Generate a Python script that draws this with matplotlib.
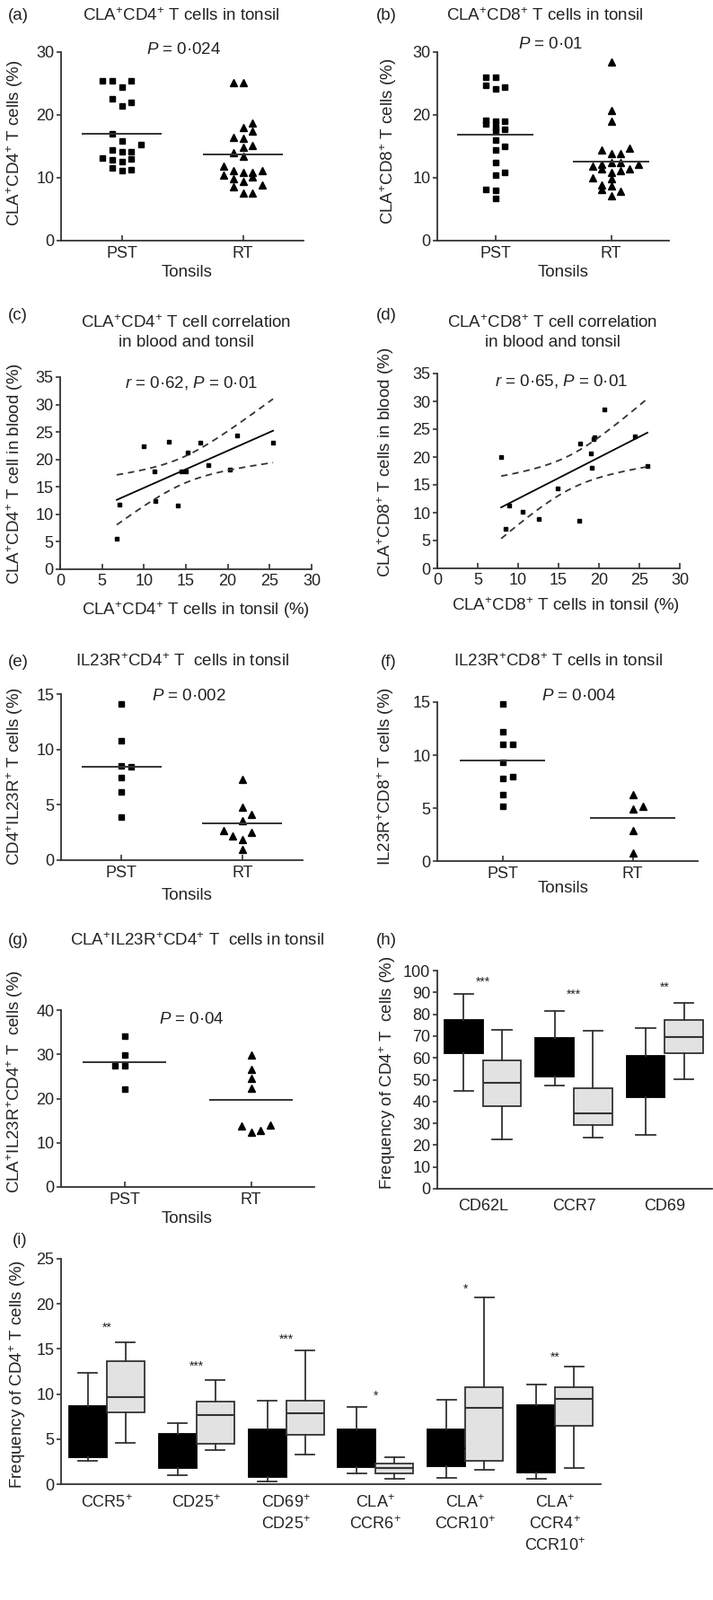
import numpy as np
import matplotlib
matplotlib.use('Agg')
import matplotlib.pyplot as plt

plt.rcParams['font.family'] = ['Liberation Sans', 'DejaVu Sans']
plt.rcParams['mathtext.fontset'] = 'custom'
plt.rcParams['mathtext.rm'] = 'Liberation Sans'
plt.rcParams['mathtext.it'] = 'Liberation Sans:italic'
plt.rcParams['mathtext.bf'] = 'Liberation Sans:bold'

# ---------------- data ----------------
groups = ['PST', 'RT']

# (a) CLA+CD4+ T cells in tonsil
a_pst = [25.5, 25.4, 25.5, 24.4, 22.6, 22.0, 21.4, 17.0, 15.9, 15.3, 14.4, 14.2, 14.2,
         13.1, 12.8, 12.6, 12.95, 11.6, 11.1, 11.3]
a_pst_slot = [-2, -1, 1, 0, -1, 1, 0, -1, 0, 2, -1, 0, 1, -2, -1, 0, 1, -1, 0, 1]
a_rt = [25.1, 25.1, 18.7, 18.0, 17.4, 16.5, 16.3, 14.9, 15.1, 14.0, 13.4, 11.9, 11.1, 10.8,
        10.8, 11.1, 10.4, 9.8, 9.4, 10.1, 8.8, 8.6, 7.6, 7.6]
a_rt_slot = [-1, 0, 1, 0, 1, -1, 0, 0, 1, -1, 0, -2, -1, 0, 1, 2, -2, -1, 0, 1, 2, -1, 0, 1]
a_means = [17.05, 13.7]

# (b) CLA+CD8+ T cells in tonsil
b_pst = [25.95, 25.95, 24.7, 24.2, 24.4, 19.2, 19.0, 19.0, 18.6, 18.0, 17.7, 17.4, 16.0,
         14.5, 15.0, 12.5, 10.5, 10.8, 8.2, 7.95, 6.7]
b_pst_slot = [-1, 0, -1, 0, 1, -1, 0, 1, -1, 0, 1, 0, 0, 0, 1, 0, 0, 1, -1, 0, 0]
b_rt = [28.5, 20.7, 19.0, 14.5, 14.7, 13.8, 13.8, 11.8, 12.2, 12.4, 12.4, 12.1, 11.4, 10.8,
        11.2, 11.4, 10.0, 9.8, 8.8, 8.7, 8.2, 7.1, 7.9]
b_rt_slot = [0, 0, 0, -1, 2, 0, 1, -2, -1, 0, 1, 3, -1, 0, 1, 2, -2, 0, -1, 0, -1, 0, 1]
b_means = [16.9, 12.6]

# (c) CLA+CD4+ correlation (tonsil x, blood y)
c_tonsil = [6.75, 7.07, 10.0, 11.25, 11.4, 12.96, 14.0, 14.5, 15.0, 15.2, 16.7, 17.7, 20.3, 21.1, 25.4]
c_blood = [5.6, 11.8, 22.4, 17.85, 12.4, 23.3, 11.6, 17.85, 17.85, 21.2, 23.0, 18.9, 18.1, 24.4, 23.1]

# (d) CLA+CD8+ correlation
d_tonsil = [7.9, 8.9, 10.5, 12.5, 8.4, 14.9, 17.7, 17.6, 19.0, 19.1, 19.3, 19.4, 20.7, 24.4, 26.0]
d_blood = [20.0, 11.3, 10.2, 8.8, 7.1, 14.4, 22.4, 8.6, 20.7, 18.0, 23.3, 23.6, 28.6, 23.7, 18.4]

# (e) IL23R+CD4+ T cells in tonsil
e_pst = [14.1, 10.8, 8.5, 8.4, 7.5, 6.2, 3.9]
e_pst_slot = [0, 0, 0, 1, 0, 0, 0]
e_rt = [7.3, 4.8, 4.1, 3.6, 2.7, 2.55, 2.2, 1.9, 1.0]
e_rt_slot = [0, 0, 1, 0, -2, 1, -1, 0, 0]
e_means = [8.4, 3.36]

# (f) IL23R+CD8+ T cells in tonsil
f_pst = [14.8, 12.2, 11.0, 11.0, 9.3, 7.8, 7.97, 6.3, 5.2]
f_pst_slot = [0, 0, 0, 1, 0, 0, 1, 0, 0]
f_rt = [6.3, 4.9, 5.2, 2.9, 0.8]
f_rt_slot = [0, 0, 1, 0, 0]
f_means = [9.45, 4.1]

# (g) CLA+IL23R+CD4+ T cells in tonsil
g_pst = [34.2, 29.9, 27.5, 27.5, 22.2]
g_pst_slot = [0, 0, -1, 0, 0]
g_rt = [29.9, 26.7, 24.5, 22.3, 13.9, 12.3, 12.7, 14.1]
g_rt_slot = [0, 0, 0, 0, -1, 0, 1, 2]
g_means = [28.3, 19.7]

# (h) box plots
h_labels = ['CD62L', 'CCR7', 'CD69']
h_black_whislo = [45.0, 47.5, 24.6]
h_black_q1 = [62.3, 51.6, 42.0]
h_black_med = [70.0, 60.0, 51.0]
h_black_q3 = [77.5, 69.3, 60.7]
h_black_whishi = [89.4, 81.4, 73.7]
h_gray_whislo = [22.5, 23.6, 50.1]
h_gray_q1 = [37.9, 29.3, 62.3]
h_gray_med = [48.4, 34.5, 69.6]
h_gray_q3 = [58.9, 46.1, 77.5]
h_gray_whishi = [73.0, 72.3, 85.0]
h_stars = ['***', '***', '**']
h_star_y = [94.8, 89.0, 92.4]

# (i) box plots
i_labels = ['CCR5$^{+}$', 'CD25$^{+}$', 'CD69$^{+}$\nCD25$^{+}$', 'CLA$^{+}$\nCCR6$^{+}$',
            'CLA$^{+}$\nCCR10$^{+}$', 'CLA$^{+}$\nCCR4$^{+}$\nCCR10$^{+}$']
i_black_whislo = [2.6, 1.0, 0.3, 1.2, 0.7, 0.6]
i_black_q1 = [3.0, 1.8, 0.8, 1.9, 2.0, 1.3]
i_black_med = [5.8, 3.7, 3.4, 4.0, 4.0, 5.0]
i_black_q3 = [8.7, 5.6, 6.1, 6.1, 6.1, 8.8]
i_black_whishi = [12.4, 6.8, 9.3, 8.6, 9.4, 11.1]
i_gray_whislo = [4.6, 3.8, 3.3, 0.6, 1.6, 1.8]
i_gray_q1 = [8.0, 4.5, 5.5, 1.2, 2.6, 6.5]
i_gray_med = [9.7, 7.7, 7.9, 1.8, 8.5, 9.5]
i_gray_q3 = [13.6, 9.2, 9.3, 2.3, 10.8, 10.8]
i_gray_whishi = [15.7, 11.6, 14.8, 3.0, 20.7, 13.0]
i_stars = ['**', '***', '***', '*', '*', '**']
i_star_y = [17.4, 13.1, 16.1, 9.8, 21.6, 14.1]

T_CRIT = 2.160  # t(0.975, df=13)

# ---------------- layout helpers ----------------
W, H = 794, 1782
fig = plt.figure(figsize=(W / 100, H / 100), dpi=100)
FS = 13.5
FS_TICK = 13
TXT = '#222222'
AXC = '#333333'


def add_ax(x0, x1, ytop, ybot):
    return fig.add_axes([x0 / W, 1 - ybot / H, (x1 - x0) / W, (ybot - ytop) / H])


def ftext(x, y, s, **kw):
    kw.setdefault('ha', 'center')
    kw.setdefault('va', 'center')
    kw.setdefault('fontsize', FS)
    kw.setdefault('color', TXT)
    fig.text(x / W, 1 - y / H, s, **kw)


def style(ax, xtick_len=4, xpad=5):
    for s in ['top', 'right']:
        ax.spines[s].set_visible(False)
    for s in ['left', 'bottom']:
        ax.spines[s].set_linewidth(1.3)
        ax.spines[s].set_color(AXC)
    ax.tick_params(axis='y', direction='out', length=3.5, width=1.2, pad=2,
                   labelsize=FS_TICK, color=AXC, labelcolor=TXT)
    ax.tick_params(axis='x', direction='in', length=xtick_len, width=1.2, pad=xpad,
                   labelsize=FS_TICK, color=AXC, labelcolor=TXT)
    ax.set_facecolor('none')


STEP = 0.078


def cat_panel(ax, pst, pst_slot, rt, rt_slot, means, ymax, ystep):
    ax.plot(1 + STEP * np.array(pst_slot), pst, 's', ms=4.4, color='black', clip_on=False)
    ax.plot(2 + STEP * np.array(rt_slot), rt, '^', ms=5.2, color='black', clip_on=False)
    for i, m in enumerate(means):
        ax.hlines(m, i + 1 - 0.33, i + 1 + 0.33, color=AXC, lw=1.4)
    ax.set_xlim(0.5, 2.5)
    ax.set_ylim(0, ymax)
    ax.set_yticks(np.arange(0, ymax + 0.1, ystep))
    ax.set_xticks([1, 2], groups)
    style(ax, xtick_len=4, xpad=4.5)


def reg_panel(ax, x, y):
    x = np.asarray(x, float)
    y = np.asarray(y, float)
    n = len(x)
    b, a = np.polyfit(x, y, 1)
    xs = np.linspace(x.min(), x.max(), 100)
    fit = a + b * xs
    resid = y - (a + b * x)
    s = np.sqrt(np.sum(resid ** 2) / (n - 2))
    sxx = np.sum((x - x.mean()) ** 2)
    half = T_CRIT * s * np.sqrt(1 / n + (xs - x.mean()) ** 2 / sxx)
    ax.plot(x, y, 's', ms=3.4, color='black')
    ax.plot(xs, fit, color='black', lw=1.3)
    ax.plot(xs, fit + half, color=AXC, lw=1.3, ls=(0, (4, 3)))
    ax.plot(xs, fit - half, color=AXC, lw=1.3, ls=(0, (4, 3)))
    ax.set_xlim(0, 30)
    ax.set_ylim(0, 35)
    ax.set_xticks(np.arange(0, 31, 5))
    ax.set_yticks(np.arange(0, 36, 5))
    style(ax, xtick_len=4, xpad=3.5)


def box_panel(ax, bl, bq1, bmed, bq3, bhi, gl, gq1, gmed, gq3, ghi, stars, stary):
    n = len(bl)
    pos = np.arange(1, n + 1)
    bstats = [dict(whislo=bl[k], q1=bq1[k], med=bmed[k], q3=bq3[k], whishi=bhi[k]) for k in range(n)]
    gstats = [dict(whislo=gl[k], q1=gq1[k], med=gmed[k], q3=gq3[k], whishi=ghi[k]) for k in range(n)]
    common = dict(widths=0.42, patch_artist=True, showfliers=False, capwidths=0.21,
                  whiskerprops=dict(color=AXC, lw=1.3), capprops=dict(color=AXC, lw=1.3))
    ax.bxp(bstats, positions=pos - 0.21, boxprops=dict(facecolor='black', edgecolor='black', lw=1.3),
           medianprops=dict(color='black', lw=1.3), **common)
    ax.bxp(gstats, positions=pos + 0.21, boxprops=dict(facecolor='#e2e2e2', edgecolor=AXC, lw=1.3),
           medianprops=dict(color=AXC, lw=1.5), **common)
    for k in range(n):
        ax.text(pos[k], stary[k], stars[k], ha='center', va='center', fontsize=10, color=TXT)
    ax.set_xticks(pos)
    style(ax, xtick_len=0, xpad=8)


# ---------------- (a) ----------------
ax_a = add_ax(68, 338, 58, 268)
cat_panel(ax_a, a_pst, a_pst_slot, a_rt, a_rt_slot, a_means, 30, 10)
ftext(20, 18, '(a)')
ftext(202, 18, 'CLA$^{+}$CD4$^{+}$ T cells in tonsil')
ftext(205, 55, '$P$ = 0·024')
ftext(17, 159, 'CLA$^{+}$CD4$^{+}$ T cells (%)', rotation=90)
ftext(208, 303, 'Tonsils')

# ---------------- (b) ----------------
ax_b = add_ax(487, 745, 58, 268)
cat_panel(ax_b, b_pst, b_pst_slot, b_rt, b_rt_slot, b_means, 30, 10)
ftext(430, 18, '(b)')
ftext(607, 18, 'CLA$^{+}$CD8$^{+}$ T cells in tonsil')
ftext(613, 50, '$P$ = 0·01')
ftext(433, 157, 'CLA$^{+}$CD8$^{+}$ T cells (%)', rotation=90)
ftext(627, 303, 'Tonsils')

# ---------------- (c) ----------------
ax_c = add_ax(67, 347, 420, 634)
reg_panel(ax_c, c_tonsil, c_blood)
ftext(20, 352, '(c)')
ftext(207, 370, 'CLA$^{+}$CD4$^{+}$ T cell correlation\nin blood and tonsil', linespacing=1.35)
ftext(213, 427, '$r$ = 0·62, $P$ = 0·01')
ftext(17, 528, 'CLA$^{+}$CD4$^{+}$ T cell in blood (%)', rotation=90)
ftext(218, 680, 'CLA$^{+}$CD4$^{+}$ T cells in tonsil (%)')

# ---------------- (d) ----------------
ax_d = add_ax(487, 757, 416, 633)
reg_panel(ax_d, d_tonsil, d_blood)
ftext(430, 352, '(d)')
ftext(615, 370, 'CLA$^{+}$CD8$^{+}$ T cell correlation\nin blood and tonsil', linespacing=1.35)
ftext(625, 425, '$r$ = 0·65, $P$ = 0·01')
ftext(430, 515, 'CLA$^{+}$CD8$^{+}$ T cells in blood (%)', rotation=90)
ftext(630, 675, 'CLA$^{+}$CD8$^{+}$ T cells in tonsil (%)')

# ---------------- (e) ----------------
ax_e = add_ax(68, 337, 773, 958)
cat_panel(ax_e, e_pst, e_pst_slot, e_rt, e_rt_slot, e_means, 15, 5)
ftext(20, 737, '(e)')
ftext(203, 737, 'IL23R$^{+}$CD4$^{+}$ T  cells in tonsil')
ftext(210, 775, '$P$ = 0·002')
ftext(17, 865, 'CD4$^{+}$IL23R$^{+}$ T cells (%)', rotation=90)
ftext(208, 998, 'Tonsils')

# ---------------- (f) ----------------
ax_f = add_ax(487, 777, 782, 959)
cat_panel(ax_f, f_pst, f_pst_slot, f_rt, f_rt_slot, f_means, 15, 5)
ftext(433, 737, '(f)')
ftext(622, 737, 'IL23R$^{+}$CD8$^{+}$ T cells in tonsil')
ftext(645, 775, '$P$ = 0·004')
ftext(430, 865, 'IL23R$^{+}$CD8$^{+}$ T cells (%)', rotation=90)
ftext(627, 990, 'Tonsils')

# ---------------- (g) ----------------
ax_g = add_ax(68, 350, 1125, 1322)
cat_panel(ax_g, g_pst, g_pst_slot, g_rt, g_rt_slot, g_means, 40, 10)
ftext(20, 1048, '(g)')
ftext(220, 1048, 'CLA$^{+}$IL23R$^{+}$CD4$^{+}$ T  cells in tonsil')
ftext(213, 1135, '$P$ = 0·04')
ftext(17, 1205, 'CLA$^{+}$IL23R$^{+}$CD4$^{+}$ T  cells (%)', rotation=90)
ftext(208, 1358, 'Tonsils')

# ---------------- (h) ----------------
ax_h = add_ax(487, 793, 1081, 1324)
box_panel(ax_h, h_black_whislo, h_black_q1, h_black_med, h_black_q3, h_black_whishi,
          h_gray_whislo, h_gray_q1, h_gray_med, h_gray_q3, h_gray_whishi, h_stars, h_star_y)
ax_h.set_xticklabels(h_labels)
ax_h.set_xlim(0.5, 3.52)
ax_h.set_ylim(0, 100)
ax_h.set_yticks(np.arange(0, 101, 10))
ftext(430, 1048, '(h)')
ftext(432, 1195, 'Frequency of CD4$^{+}$ T  cells (%)', rotation=90)

# ---------------- (i) ----------------
ax_i = add_ax(68, 669, 1402, 1653)
box_panel(ax_i, i_black_whislo, i_black_q1, i_black_med, i_black_q3, i_black_whishi,
          i_gray_whislo, i_gray_q1, i_gray_med, i_gray_q3, i_gray_whishi, i_stars, i_star_y)
ax_i.set_xticklabels(i_labels, linespacing=1.35)
ax_i.set_xlim(0.49, 6.51)
ax_i.set_ylim(0, 25)
ax_i.set_yticks(np.arange(0, 26, 5))
ftext(22, 1382, '(i)')
ftext(20, 1530, 'Frequency of CD4$^{+}$ T cells (%)', rotation=90)

fig.savefig('out.png', dpi=100, facecolor='white')
